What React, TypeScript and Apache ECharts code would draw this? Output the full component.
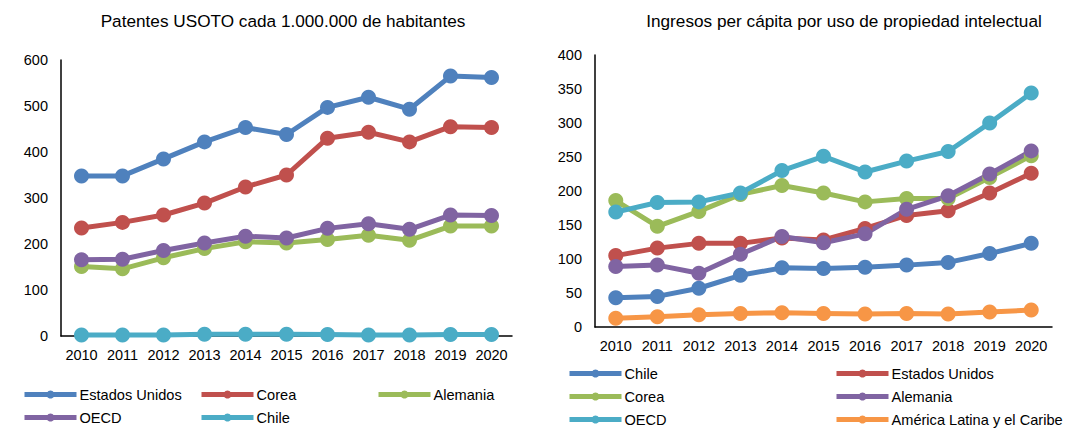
import React, { useEffect, useRef } from "react";
import * as echarts from "echarts";

const years = ["2010", "2011", "2012", "2013", "2014", "2015", "2016", "2017", "2018", "2019", "2020"];

// Left chart: Patentes USOTO cada 1.000.000 de habitantes
const patEEUU = [348, 348, 385, 422, 453, 438, 497, 519, 493, 565, 562];
const patCorea = [235, 247, 263, 289, 324, 350, 430, 443, 422, 455, 453];
const patAlemania = [151, 146, 170, 190, 205, 202, 210, 219, 208, 239, 239];
const patOECD = [166, 167, 186, 202, 217, 213, 234, 244, 232, 263, 262];
const patChile = [2, 2, 2, 4, 4, 4, 3, 2, 2, 3, 3];

// Right chart: Ingresos per cápita por uso de propiedad intelectual
const ingChile = [43, 45, 57, 76, 87, 86, 88, 91, 95, 108, 123];
const ingEEUU = [105, 116, 123, 123, 131, 128, 145, 164, 171, 197, 226];
const ingCorea = [186, 148, 170, 195, 208, 197, 184, 189, 189, 220, 252];
const ingAlemania = [89, 91, 79, 107, 133, 124, 137, 173, 193, 225, 259];
const ingOECD = [169, 183, 184, 197, 230, 251, 228, 244, 258, 300, 344];
const ingALC = [13, 15, 18, 20, 21, 20, 19, 20, 19, 22, 25];

const BLUE = "#4F81BD";
const RED = "#C0504D";
const GREEN = "#9BBB59";
const PURPLE = "#8064A2";
const CYAN = "#4BACC6";
const ORANGE = "#F79646";

const FONT = "Liberation Sans, Arial, sans-serif";

export default function App() {
  const ref = useRef<HTMLDivElement>(null);
  useEffect(() => {
    document.body.style.margin = "0";
    const chart = echarts.init(ref.current!, undefined, { renderer: "svg" });

    const mk = (name: string, data: number[], color: string, idx: number) => ({
      name,
      type: "line",
      xAxisIndex: idx,
      yAxisIndex: idx,
      data,
      color,
      symbol: "circle",
      symbolSize: 15,
      lineStyle: { width: 5, color },
      itemStyle: { color },
      emphasis: { disabled: true },
    });

    const series = [
      mk("Estados Unidos", patEEUU, BLUE, 0),
      mk("Corea", patCorea, RED, 0),
      mk("Alemania", patAlemania, GREEN, 0),
      mk("OECD", patOECD, PURPLE, 0),
      mk("Chile", patChile, CYAN, 0),
      mk("Chile ·2", ingChile, BLUE, 1),
      mk("Estados Unidos ·2", ingEEUU, RED, 1),
      mk("Corea ·2", ingCorea, GREEN, 1),
      mk("Alemania ·2", ingAlemania, PURPLE, 1),
      mk("OECD ·2", ingOECD, CYAN, 1),
      mk("América Latina y el Caribe", ingALC, ORANGE, 1),
    ];

    // [series name, icon left, row centre]
    const legendPos: [string, number, number][] = [
      ["Estados Unidos", 22, 396],
      ["Corea", 199, 396],
      ["Alemania", 376, 396],
      ["OECD", 22, 419],
      ["Chile", 199, 419],
      ["Chile ·2", 567, 375],
      ["Estados Unidos ·2", 834, 375],
      ["Corea ·2", 567, 398],
      ["Alemania ·2", 834, 398],
      ["OECD ·2", 567, 421],
      ["América Latina y el Caribe", 834, 421],
    ];

    const legends = legendPos.map(([name, left, cy]) => ({
      data: [name],
      left,
      top: cy - 9,
      itemWidth: 52,
      itemHeight: 10,
      itemGap: 4,
      padding: 0,
      selectedMode: false,
      lineStyle: { width: 5 },
      formatter: (n: string) => n.replace(" ·2", ""),
      textStyle: { fontFamily: FONT, fontSize: 14.6, color: "#000", padding: [0, 0, 0, -2] },
    }));

    const axisCommon = {
      axisLine: { show: true, lineStyle: { color: "#000", width: 1.5 } },
      axisTick: { show: false },
      splitLine: { show: false },
    };

    const titleStyle = { fontFamily: FONT, fontSize: 17.2, fontWeight: "normal", color: "#000" };

    chart.setOption({
      animation: false,
      backgroundColor: "#fff",
      title: [
        {
          text: "Patentes USOTO cada 1.000.000 de habitantes",
          left: 278,
          top: 7,
          textAlign: "center",
          textStyle: titleStyle,
        },
        {
          text: "Ingresos per cápita por uso de propiedad intelectual",
          left: 839,
          top: 7,
          textAlign: "center",
          textStyle: titleStyle,
        },
      ],
      legend: legends,
      grid: [
        { left: 61, right: 553, top: 60, bottom: 96 },
        { left: 595, right: 13, top: 55, bottom: 105 },
      ],
      xAxis: [0, 1].map((i) => ({
        type: "category",
        gridIndex: i,
        data: years,
        boundaryGap: true,
        ...axisCommon,
        axisLabel: { fontFamily: FONT, fontSize: 14.5, color: "#000", margin: 11, interval: 0 },
      })),
      yAxis: [
        {
          type: "value",
          gridIndex: 0,
          min: 0,
          max: 600,
          interval: 100,
          ...axisCommon,
          axisLabel: { fontFamily: FONT, fontSize: 14.5, color: "#000", margin: 13 },
        },
        {
          type: "value",
          gridIndex: 1,
          min: 0,
          max: 400,
          interval: 50,
          ...axisCommon,
          axisLabel: { fontFamily: FONT, fontSize: 14.5, color: "#000", margin: 13 },
        },
      ],
      series,
    });
    return () => chart.dispose();
  }, []);
  return <div ref={ref} style={{ width: 1065, height: 432, position: "absolute", left: 0, top: 0 }} />;
}
